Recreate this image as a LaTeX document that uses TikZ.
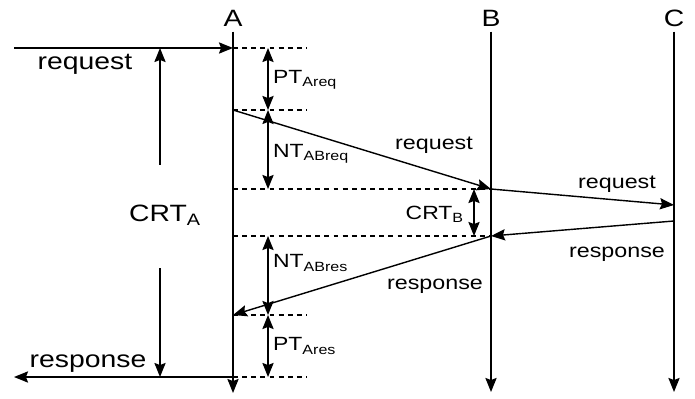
\documentclass[tikz,border=0pt]{standalone}
\usepackage{fontspec}
\setmainfont[FakeStretch=1.2]{Liberation Sans}
\usetikzlibrary{arrows.meta}
\begin{document}
\begin{tikzpicture}[x=0.025cm,y=-0.025cm,line width=1pt,
    font=\fontsize{16.8}{20}\selectfont,
    >={Stealth[length=10pt,width=8pt,inset=1.5pt]},
    guide/.style={dashed,dash pattern=on 3.5pt off 3pt,line width=0.8pt},
    msgtext/.style={font=\fontsize{13.8}{16}\selectfont},
    lbl/.style={inner sep=1pt,font=\fontsize{13.6}{16}\selectfont}]
    \useasboundingbox (0,0) rectangle (695,399);
    \node (A) at (233,18) {A};
    \node (B) at (491,18) {B};
    \node (C) at (674,18) {C};
    \coordinate (Aend) at (233,393);
    \coordinate (Bend) at (491,392);
    \coordinate (Cend) at (674,392);
    \draw [->] (A.south) -- (Aend);
    \draw [->] (B.south) -- (Bend);
    \draw [->] (C.south) -- (Cend);

    \coordinate (a1) at (233,48);
    \coordinate (a2) at (233,110);
    \coordinate (a3) at (233,189);
    \coordinate (a4) at (233,236);
    \coordinate (a5) at (233,315);
    \coordinate (a6) at (233,377);
    \coordinate (b1) at (491,189);
    \coordinate (b2) at (491,236);
    \coordinate (c1) at (674,205);
    \coordinate (c2) at (674,221);
    \coordinate (in) at (14,48);
    \coordinate (out) at (14,377);

    \coordinate (e1) at (307,48);
    \coordinate (e2) at (307,110);
    \coordinate (e5) at (307,315);
    \coordinate (e6) at (307,377);
    \draw [guide] (a1) -- (e1);
    \draw [guide] (a2) -- (e2);
    \draw [guide] (a3) -- (b1);
    \draw [guide] (a4) -- (b2);
    \draw [guide] (a5) -- (e5);
    \draw [guide] (a6) -- (e6);

    \draw [->] (in) -- (a1);
    \draw [->] (a2) -- (b1);
    \draw [->] (b1) -- (c1);
    \draw [->] (c2) -- (b2);
    \draw [->] (b2) -- (a5);
    \draw [->] (a6) -- (out);

    \node (rq1) at (85,64) {request};
    \node[msgtext] (rq2) at (434,145) {request};
    \node[msgtext] (rq3) at (617,184) {request};
    \node[msgtext] (rs1) at (617,254) {response};
    \node[msgtext] (rs2) at (435,286) {response};
    \node (rs3) at (88,364) {response};

    \coordinate (p1) at (268,48);
    \coordinate (p2) at (268,110);
    \coordinate (p3) at (268,189);
    \coordinate (p4) at (268,236);
    \coordinate (p5) at (268,315);
    \coordinate (p6) at (268,377);
    \draw [<->] (p1) -- (p2);
    \draw [<->] (p2) -- (p3);
    \draw [<->] (p4) -- (p5);
    \draw [<->] (p5) -- (p6);
    \node[lbl,anchor=west] (pta) at (271,80) {PT\textsubscript{Areq}};
    \node[lbl,anchor=west] (nta) at (271,154) {NT\textsubscript{ABreq}};
    \node[lbl,anchor=west] (ntb) at (271,263) {NT\textsubscript{ABres}};
    \node[lbl,anchor=west] (ptb) at (271,346) {PT\textsubscript{Ares}};

    \coordinate (q1) at (474,189);
    \coordinate (q2) at (474,236);
    \draw [<->] (q1) -- (q2);
    \node[lbl,anchor=east] (crtb) at (466,214) {CRT\textsubscript{B}};

    \coordinate (s1) at (160,165);
    \coordinate (s2) at (160,48);
    \coordinate (s3) at (160,268);
    \coordinate (s4) at (160,377);
    \draw [->] (s1) -- (s2);
    \draw [->] (s3) -- (s4);
    \node (crta) at (165,215) {CRT\textsubscript{A}};
\end{tikzpicture}
\end{document}
